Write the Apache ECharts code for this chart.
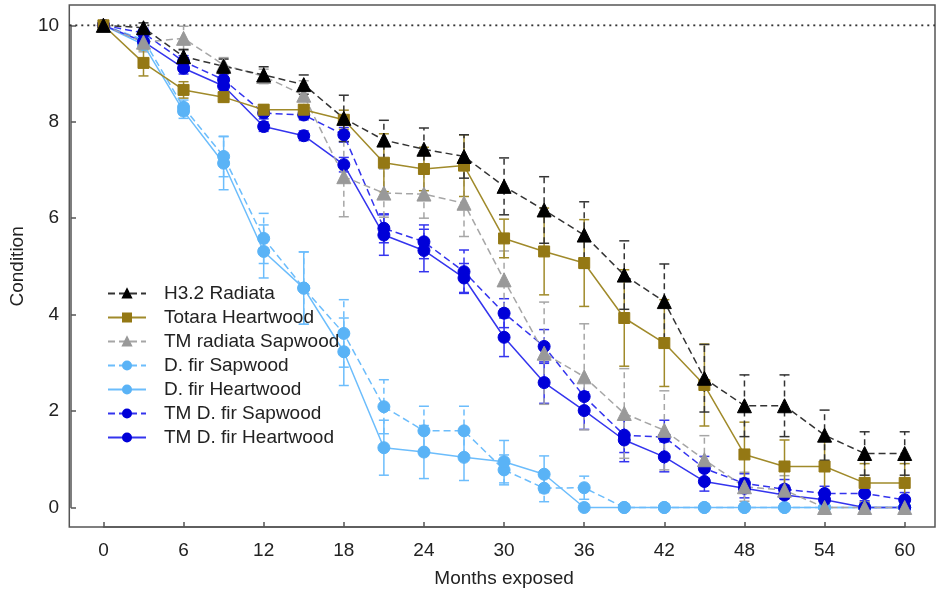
<!DOCTYPE html>
<html>
<head>
<meta charset="utf-8">
<script src="https://cdn.jsdelivr.net/npm/echarts@6/dist/echarts.min.js"></script>
<style>
  html, body { margin: 0; padding: 0; background: #fff; }
  #chart { width: 938px; height: 593px; }
</style>
</head>
<body>
<div id="chart"></div>
<script>
// months exposed, one reading every 3 months
var months = [0, 3, 6, 9, 12, 15, 18, 21, 24, 27, 30, 33, 36, 39, 42, 45, 48, 51, 54, 57, 60];

var h32Radiata     = [10, 9.95, 9.35, 9.15, 8.97, 8.77, 8.07, 7.62, 7.43, 7.28, 6.66, 6.17, 5.65, 4.82, 4.27, 2.68, 2.11, 2.11, 1.5, 1.12, 1.12];
var h32RadiataErr  = [0, 0.1, 0.15, 0.15, 0.17, 0.2, 0.48, 0.41, 0.44, 0.45, 0.59, 0.69, 0.69, 0.71, 0.78, 0.7, 0.64, 0.64, 0.52, 0.45, 0.45];

var totaraHeart    = [10, 9.22, 8.66, 8.51, 8.25, 8.25, 8.04, 7.15, 7.02, 7.09, 5.58, 5.31, 5.07, 3.93, 3.41, 2.54, 1.1, 0.85, 0.85, 0.51, 0.51];
var totaraHeartErr = [0, 0.27, 0.17, 0.1, 0.1, 0.1, 0.2, 0.6, 0.45, 0.64, 0.4, 0.9, 0.9, 1.0, 0.9, 0.85, 0.67, 0.55, 0.55, 0.4, 0.4];

var tmRadSap       = [10, 9.65, 9.73, 9.18, 8.94, 8.55, 6.86, 6.52, 6.5, 6.31, 4.72, 3.2, 2.71, 1.95, 1.6, 0.99, 0.43, 0.36, 0, 0, 0];
var tmRadSapErr    = [0, 0.2, 0.25, 0.15, 0.15, 0.3, 0.83, 0.5, 0.5, 0.69, 0.6, 1.06, 1.1, 0.93, 0.82, 0.5, 0.3, 0.3, 0, 0, 0];

var dfirSap        = [10, 9.7, 8.3, 7.28, 5.58, 4.55, 3.61, 2.09, 1.59, 1.59, 0.78, 0.4, 0.41, 0, 0, 0, 0, 0, 0, 0, 0];
var dfirSapErr     = [0, 0.1, 0.15, 0.42, 0.52, 0.75, 0.7, 0.56, 0.51, 0.51, 0.31, 0.28, 0.24, 0, 0, 0, 0, 0, 0, 0, 0];

var dfirHeart      = [10, 9.6, 8.22, 7.14, 5.31, 4.55, 3.23, 1.24, 1.15, 1.04, 0.95, 0.69, 0, 0, 0, 0, 0, 0, 0, 0, 0];
var dfirHeartErr   = [0, 0.1, 0.15, 0.55, 0.55, 0.75, 0.7, 0.57, 0.55, 0.48, 0.44, 0.38, 0, 0, 0, 0, 0, 0, 0, 0, 0];

var tmDfirSap      = [10, 9.84, 9.25, 8.87, 8.18, 8.14, 7.73, 5.79, 5.51, 4.89, 4.03, 3.34, 2.3, 1.5, 1.46, 0.81, 0.5, 0.38, 0.29, 0.29, 0.16];
var tmDfirSapErr   = [0, 0.1, 0.12, 0.12, 0.12, 0.1, 0.15, 0.3, 0.35, 0.45, 0.3, 0.35, 0.35, 0.36, 0.35, 0.25, 0.2, 0.2, 0.15, 0.15, 0.15];

var tmDfirHeart    = [10, 9.66, 9.11, 8.74, 7.9, 7.71, 7.11, 5.65, 5.33, 4.76, 3.53, 2.59, 2.01, 1.4, 1.05, 0.54, 0.4, 0.26, 0.16, 0, 0];
var tmDfirHeartErr = [0, 0.1, 0.12, 0.12, 0.1, 0.1, 0.15, 0.42, 0.44, 0.3, 0.4, 0.43, 0.39, 0.45, 0.31, 0.2, 0.2, 0.2, 0.15, 0.1, 0.1];

var fullCondition = 10;

var legendNames = ['H3.2 Radiata', 'Totara Heartwood', 'TM radiata Sapwood', 'D. fir Sapwood',
                   'D. fir Heartwood', 'TM D. fir Sapwood', 'TM D. fir Heartwood'];

// drawing order: light ones first, black last
var groups = [
  { name: 'D. fir Sapwood', vals: dfirSap, errs: dfirSapErr, line: '#6cbdfc', mark: '#5ab3f6', symbol: 'circle', size: 12, dashed: true },
  { name: 'D. fir Heartwood', vals: dfirHeart, errs: dfirHeartErr, line: '#6cbdfc', mark: '#5ab3f6', symbol: 'circle', size: 12, dashed: false },
  { name: 'TM D. fir Sapwood', vals: tmDfirSap, errs: tmDfirSapErr, line: '#3434ee', mark: '#0000d8', symbol: 'circle', size: 12, dashed: true },
  { name: 'TM D. fir Heartwood', vals: tmDfirHeart, errs: tmDfirHeartErr, line: '#3434ee', mark: '#0000d8', symbol: 'circle', size: 12, dashed: false },
  { name: 'TM radiata Sapwood', vals: tmRadSap, errs: tmRadSapErr, line: '#a6a6a6', mark: '#999999', symbol: 'triangle', size: 14, dashed: true },
  { name: 'Totara Heartwood', vals: totaraHeart, errs: totaraHeartErr, line: '#a08a2a', mark: '#947814', symbol: 'rect', size: 11, dashed: false },
  { name: 'H3.2 Radiata', vals: h32Radiata, errs: h32RadiataErr, line: '#333333', mark: '#000000', symbol: 'triangle', size: 14, dashed: true }
];

var font = "'Liberation Sans', Arial, sans-serif";

function errorBars(g) {
  var data = [];
  for (var i = 0; i < months.length; i++) {
    if (g.errs[i] > 0) data.push([months[i], g.vals[i] - g.errs[i], g.vals[i] + g.errs[i]]);
  }
  return {
    name: g.name + ' error',
    type: 'custom',
    xAxisIndex: 0,
    yAxisIndex: 0,
    z: 1,
    silent: true,
    clip: false,
    data: data,
    renderItem: function (params, api) {
      var lo = api.coord([api.value(0), api.value(1)]);
      var hi = api.coord([api.value(0), api.value(2)]);
      var style = { stroke: g.line, lineWidth: 1.5, lineDash: g.dashed ? [6, 4] : null };
      var capStyle = { stroke: g.line, lineWidth: 1.5 };
      return {
        type: 'group',
        children: [
          { type: 'line', shape: { x1: lo[0], y1: lo[1], x2: hi[0], y2: hi[1] }, style: style },
          { type: 'line', shape: { x1: lo[0] - 5, y1: lo[1], x2: lo[0] + 5, y2: lo[1] }, style: capStyle },
          { type: 'line', shape: { x1: hi[0] - 5, y1: hi[1], x2: hi[0] + 5, y2: hi[1] }, style: capStyle }
        ]
      };
    }
  };
}

var series = [];
groups.forEach(function (g) { series.push(errorBars(g)); });
groups.forEach(function (g) {
  series.push({
    name: g.name,
    type: 'line',
    xAxisIndex: 0,
    yAxisIndex: 0,
    z: 3,
    clip: false,
    data: months.map(function (m, i) { return [m, g.vals[i]]; }),
    symbol: g.symbol,
    symbolSize: g.size,
    lineStyle: { color: g.line, width: 1.5, type: g.dashed ? [7, 4] : 'solid' },
    itemStyle: { color: g.mark, borderColor: g.mark, borderWidth: 1 }
  });
});

// dotted line at full condition, spanning the whole frame
series.push({
  name: 'full',
  type: 'line',
  xAxisIndex: 1,
  yAxisIndex: 1,
  z: 0,
  silent: true,
  symbol: 'none',
  data: [[0, fullCondition], [1, fullCondition]],
  lineStyle: { color: '#333', width: 2, type: [2, 4] }
});

var chart = echarts.init(document.getElementById('chart'));
chart.setOption({
  animation: false,
  backgroundColor: '#fff',
  textStyle: { fontFamily: font },
  grid: [
    { left: 101.7, right: 33.3, top: 25.3, bottom: 85.5 },
    { left: 69.3, right: 3, top: 25.3, bottom: 85.5 }
  ],
  graphic: [{
    type: 'rect',
    z: 0,
    shape: { x: 69.3, y: 5, width: 865.7, height: 522 },
    style: { fill: null, stroke: '#555', lineWidth: 1.5 }
  }],
  legend: {
    data: legendNames,
    orient: 'vertical',
    left: 107,
    top: 284,
    padding: 0,
    itemWidth: 38,
    itemHeight: 10,
    itemGap: 5,
    textStyle: { fontSize: 19, color: '#222', fontFamily: font, padding: [0, 0, 0, 13] }
  },
  xAxis: [
    {
      type: 'value', gridIndex: 0, min: 0, max: 60, interval: 6, offset: 19.5,
      name: 'Months exposed', nameLocation: 'middle', nameGap: 42,
      nameTextStyle: { fontSize: 19, color: '#222', fontFamily: font },
      axisLine: { onZero: false, lineStyle: { color: '#555', width: 1.5 } },
      axisTick: { inside: true, length: 5, lineStyle: { color: '#555', width: 1.5 } },
      axisLabel: { fontSize: 19, color: '#222', margin: 14, fontFamily: font },
      splitLine: { show: false }
    },
    { type: 'value', gridIndex: 1, min: 0, max: 1, show: false }
  ],
  yAxis: [
    {
      type: 'value', gridIndex: 0, min: 0, max: 10, interval: 2, offset: 32.4,
      name: 'Condition', nameLocation: 'middle', nameGap: 40,
      nameTextStyle: { fontSize: 19, color: '#222', fontFamily: font },
      axisLine: { show: true, onZero: false, lineStyle: { color: '#555', width: 1.5 } },
      axisTick: { show: true, inside: true, length: 5, lineStyle: { color: '#555', width: 1.5 } },
      axisLabel: { fontSize: 19, color: '#222', margin: 12, fontFamily: font },
      splitLine: { show: false }
    },
    { type: 'value', gridIndex: 1, min: 0, max: 10, show: false }
  ],
  series: series
});
</script>
</body>
</html>
